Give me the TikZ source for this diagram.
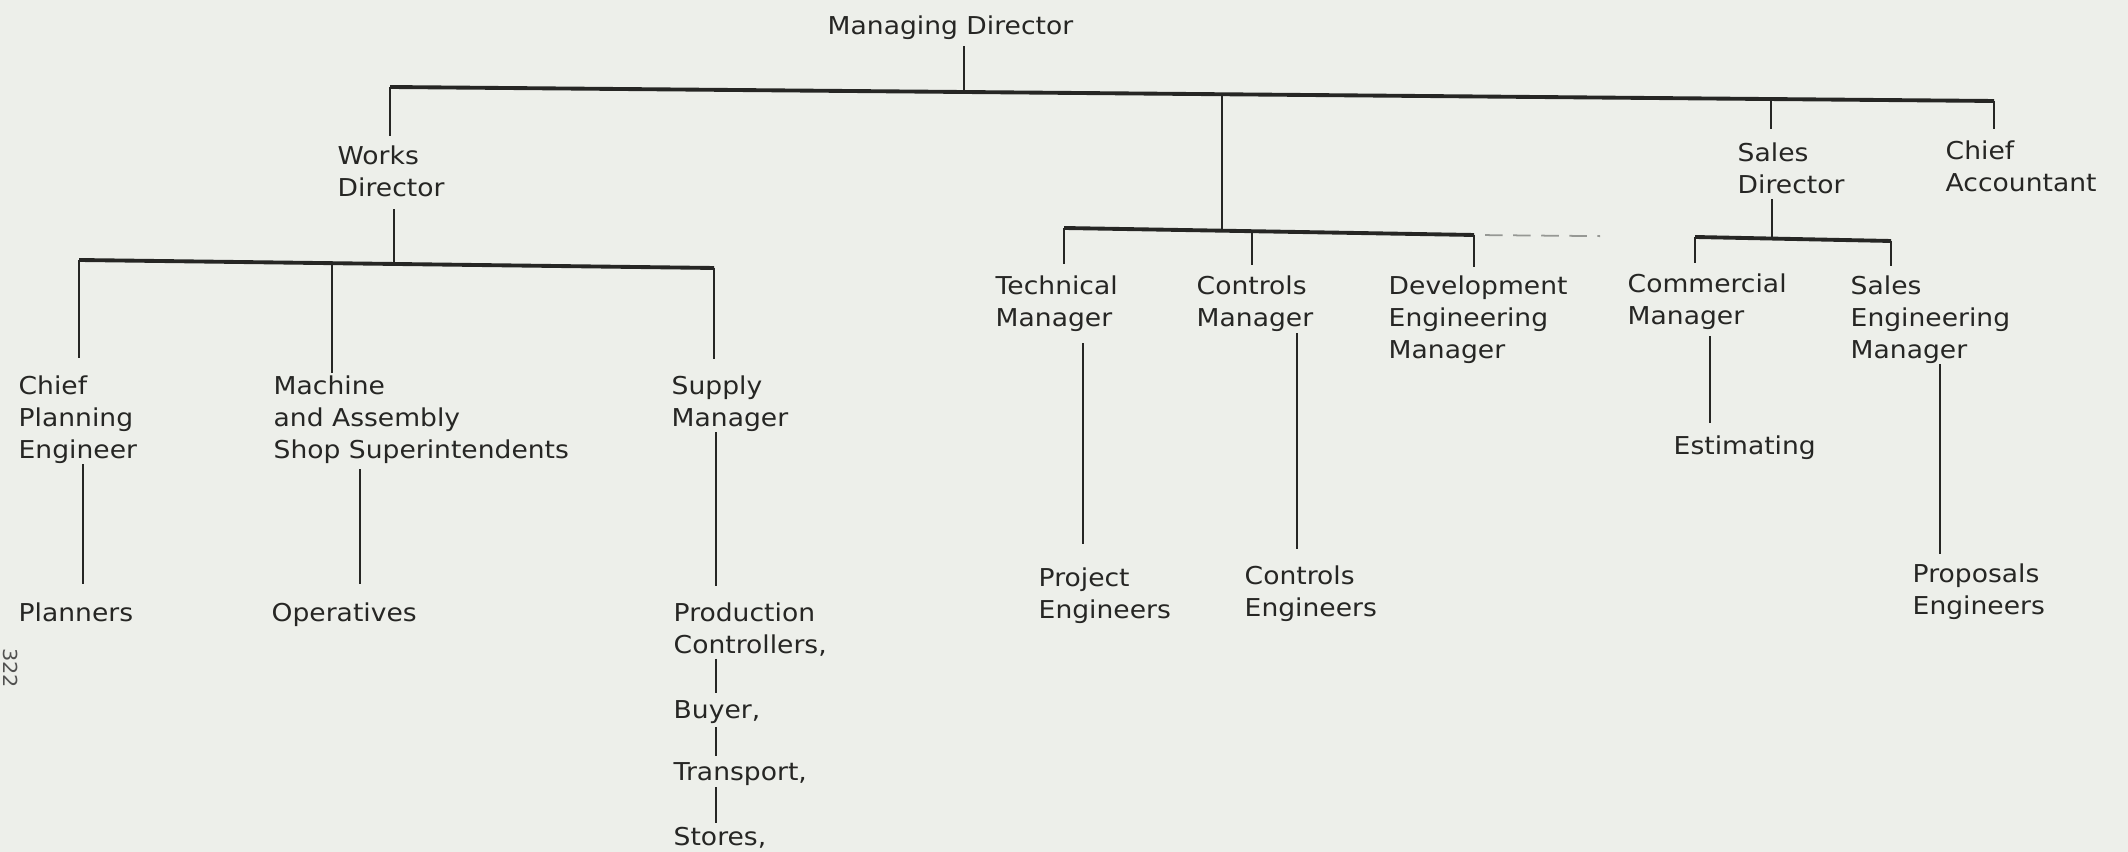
\documentclass[tikz,border=0pt]{standalone}
\usepackage{fontspec}
\setmainfont{DejaVu Sans}[FakeStretch=1.08]
\usepackage{tikz}
\usetikzlibrary{positioning}
\definecolor{ocpaper}{RGB}{237,239,234}
\definecolor{ocink}{RGB}{38,38,36}
\definecolor{ocfaint}{RGB}{150,152,148}

\begin{document}
\begin{tikzpicture}[x=0.1mm, y=-0.1mm,
  lbl/.style={anchor=north west, inner sep=0pt, align=left, text=ocink,
              font=\fontsize{7}{9.1}\selectfont},
  link/.style={draw=ocink, line width=0.6pt},
  bar/.style={draw=ocink, line width=1.1pt},
  faint/.style={draw=ocfaint, line width=0.5pt, dash pattern=on 5pt off 3pt}]
% sheet
\useasboundingbox (0,0) rectangle (2128,852);
\fill[ocpaper] (0,0) rectangle (2128,852);

% top row
\node[lbl] (md)     at (827,15)   {Managing Director};
\node[lbl] (works)  at (337,145)  {Works\\Director};
\node[lbl] (sales)  at (1737,142) {Sales\\Director};
\node[lbl] (chacc)  at (1945,140) {Chief\\Accountant};

% works side
\node[lbl] (cpe)    at (18,375)  {Chief\\Planning\\Engineer};
\node[lbl] (mas)    at (273,375) {Machine\\and Assembly\\Shop Superintendents};
\node[lbl] (supply) at (671,375) {Supply\\Manager};
\node[lbl] (plan)   at (18,602)  {Planners};
\node[lbl] (oper)   at (271,602) {Operatives};
\node[lbl] (prod)   at (673,602) {Production\\Controllers,};
\node[lbl] (buyer)  at (673,700) {Buyer,};
\node[lbl] (transp) at (673,762) {Transport,};
\node[lbl] (stores) at (673,827) {Stores,};

% technical and sales side
\node[lbl] (tech)   at (995,275)  {Technical\\Manager};
\node[lbl] (ctrl)   at (1196,275) {Controls\\Manager};
\node[lbl] (dev)    at (1388,275) {Development\\Engineering\\Manager};
\node[lbl] (comm)   at (1627,273) {Commercial\\Manager};
\node[lbl] (seng)   at (1850,275) {Sales\\Engineering\\Manager};
\node[lbl] (proj)   at (1038,567) {Project\\Engineers};
\node[lbl] (ctreng) at (1244,565) {Controls\\Engineers};
\node[lbl] (est)    at (1673,435) {Estimating};
\node[lbl] (prop)   at (1912,563) {Proposals\\Engineers};

% page number
\node[text=ocink!80, font=\fontsize{5.5}{6.5}\selectfont, rotate=-90,
      inner sep=0pt] (pgno) at (11,668) {322};

% ---- bar junctions ----
\coordinate (jworks) at (390,87);
\coordinate (jmd)    at (964,92);
\coordinate (jmid)   at (1222,94);
\coordinate (jsales) at (1771,99);
\coordinate (jchacc) at (1994,101);
\coordinate (jcpe)   at (79,260);
\coordinate (jmas)   at (332,263);
\coordinate (jwd)    at (394,264);
\coordinate (jsup)   at (714,268);
\coordinate (jtech)  at (1064,228);
\coordinate (jmid2)  at (1222,231);
\coordinate (jctrl)  at (1252,231);
\coordinate (jdev)   at (1474,235);
\coordinate (jcomm)  at (1695,237);
\coordinate (jsd)    at (1772,239);
\coordinate (jseng)  at (1891,241);
% x of the lines below the managers
\coordinate (dcpe)  at (83,0);
\coordinate (dmas)  at (360,0);
\coordinate (dsup)  at (716,0);
\coordinate (dtech) at (1083,0);
\coordinate (dctrl) at (1297,0);
\coordinate (dcomm) at (1710,0);
\coordinate (dseng) at (1940,0);

% bars
\draw[bar] (jworks) -- (jchacc);
\draw[bar] (jcpe) -- (jsup);
\draw[bar] (jtech) -- (jdev);
\draw[bar] (jcomm) -- (jseng);
\draw[faint, shorten <=1.1mm, shorten >=9.5mm] (jdev) -- (jcomm);

% up to the bars
\draw[link, shorten <=0.6mm] (md.south -| jmd) -- (jmd);
\draw[link, shorten <=1.2mm] (works.south -| jwd) -- (jwd);
\draw[link, shorten <=0.5mm] (sales.south -| jsd) -- (jsd);
\draw[link] (jmid) -- (jmid2);

% drops from the bars
\foreach \j/\n/\g in {jworks/works/0.9mm, jsales/sales/1.3mm, jchacc/chacc/1.1mm,
                      jcpe/cpe/1.7mm, jmas/mas/0.2mm, jsup/supply/1.6mm,
                      jtech/tech/1.1mm, jctrl/ctrl/1.0mm, jdev/dev/0.8mm,
                      jcomm/comm/1.0mm, jseng/seng/0.9mm}{
  \draw[link, shorten >=\g] (\j) -- (\j |- \n.north);
}

% manager to staff
\foreach \a/\b/\x/\s/\e in {cpe/plan/dcpe/0mm/1.8mm, mas/oper/dmas/0.5mm/1.8mm,
    supply/prod/dsup/0mm/1.6mm, prod/buyer/dsup/0.2mm/0.7mm,
    buyer/transp/dsup/0.3mm/0.6mm, transp/stores/dsup/0.1mm/0.4mm,
    tech/proj/dtech/1.1mm/2.3mm, ctrl/ctreng/dctrl/0.1mm/1.6mm,
    comm/est/dcomm/0.6mm/1.2mm, seng/prop/dseng/0mm/0.9mm}{
  \draw[link, shorten <=\s, shorten >=\e] (\a.south -| \x) -- (\b.north -| \x);
}
\end{tikzpicture}
\end{document}
